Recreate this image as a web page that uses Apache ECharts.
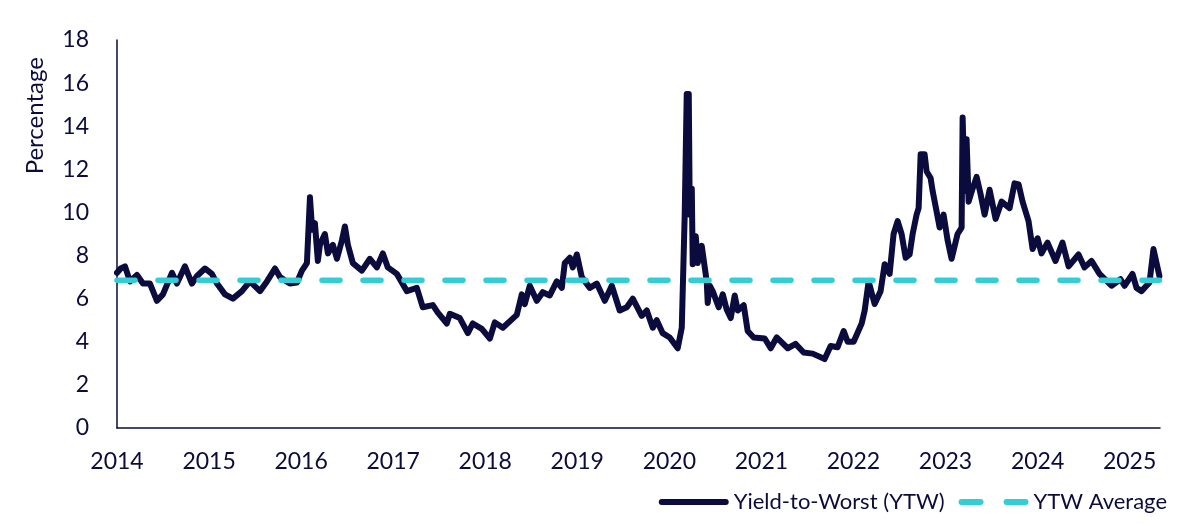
<!DOCTYPE html>
<html>
<head>
<meta charset="utf-8">
<title>Yield-to-Worst</title>
<script src="https://cdn.jsdelivr.net/npm/echarts@6/dist/echarts.min.js"></script>
<style>
  html, body { margin: 0; padding: 0; background: #fff; }
  #main { width: 1200px; height: 526px; }
</style>
</head>
<body>
<div id="main"></div>
<script>
// dates as decimal years
var years = [
  2014.000, 2014.040, 2014.087, 2014.141, 2014.217, 2014.282, 2014.358, 2014.434, 2014.499, 2014.597,
  2014.651, 2014.738, 2014.814, 2014.869, 2014.955, 2015.031, 2015.086, 2015.173, 2015.259, 2015.357,
  2015.444, 2015.553, 2015.629, 2015.716, 2015.770, 2015.878, 2015.954, 2016.009, 2016.063, 2016.096,
  2016.120, 2016.150, 2016.182, 2016.204, 2016.258, 2016.291, 2016.345, 2016.389, 2016.443, 2016.476,
  2016.508, 2016.562, 2016.660, 2016.747, 2016.823, 2016.888, 2016.942, 2017.040, 2017.149, 2017.257,
  2017.322, 2017.431, 2017.485, 2017.583, 2017.616, 2017.724, 2017.811, 2017.865, 2017.963, 2018.050,
  2018.104, 2018.191, 2018.343, 2018.397, 2018.430, 2018.484, 2018.560, 2018.625, 2018.701, 2018.777,
  2018.832, 2018.864, 2018.919, 2018.951, 2018.995, 2019.049, 2019.136, 2019.212, 2019.299, 2019.375,
  2019.461, 2019.538, 2019.603, 2019.700, 2019.755, 2019.820, 2019.863, 2019.928, 2020.004, 2020.091,
  2020.135, 2020.167, 2020.189, 2020.211, 2020.222, 2020.244, 2020.254, 2020.287, 2020.308, 2020.352,
  2020.406, 2020.417, 2020.439, 2020.471, 2020.536, 2020.580, 2020.623, 2020.667, 2020.710, 2020.743,
  2020.808, 2020.851, 2020.916, 2021.036, 2021.101, 2021.166, 2021.286, 2021.372, 2021.459, 2021.557,
  2021.687, 2021.752, 2021.828, 2021.894, 2021.937, 2022.002, 2022.089, 2022.122, 2022.165, 2022.230,
  2022.295, 2022.339, 2022.393, 2022.436, 2022.480, 2022.523, 2022.567, 2022.610, 2022.643, 2022.686,
  2022.708, 2022.730, 2022.773, 2022.795, 2022.838, 2022.860, 2022.903, 2022.936, 2022.979, 2023.023,
  2023.066, 2023.131, 2023.175, 2023.186, 2023.207, 2023.229, 2023.251, 2023.294, 2023.338, 2023.381,
  2023.425, 2023.479, 2023.544, 2023.609, 2023.696, 2023.750, 2023.794, 2023.837, 2023.902, 2023.946,
  2024.000, 2024.043, 2024.108, 2024.195, 2024.271, 2024.337, 2024.445, 2024.510, 2024.586, 2024.673,
  2024.803, 2024.901, 2024.945, 2025.031, 2025.075, 2025.129, 2025.216, 2025.259, 2025.324
]

// Yield-to-Worst (%)
var ytw = [
  7.2, 7.4, 7.5, 6.8, 7.1, 6.7, 6.7, 5.9, 6.2, 7.2,
  6.7, 7.5, 6.7, 7.05, 7.4, 7.15, 6.7, 6.2, 6.0, 6.35,
  6.8, 6.35, 6.8, 7.4, 7.0, 6.7, 6.75, 7.3, 7.65, 10.7,
  9.2, 9.5, 7.75, 8.5, 9.0, 8.1, 8.5, 7.85, 8.7, 9.35,
  8.5, 7.65, 7.3, 7.85, 7.45, 8.1, 7.45, 7.15, 6.35, 6.5,
  5.6, 5.7, 5.35, 4.85, 5.3, 5.1, 4.4, 4.85, 4.6, 4.15,
  4.9, 4.65, 5.25, 6.2, 5.75, 6.6, 5.9, 6.3, 6.15, 6.8,
  6.5, 7.65, 7.9, 7.45, 8.05, 7.0, 6.5, 6.7, 5.9, 6.6,
  5.45, 5.6, 6.0, 5.2, 5.45, 4.65, 5.0, 4.4, 4.2, 3.7,
  4.65, 9.9, 15.5, 15.5, 9.9, 11.1, 7.6, 8.9, 7.65, 8.45,
  6.8, 5.8, 6.6, 6.35, 5.6, 6.2, 5.5, 5.1, 6.15, 5.45,
  5.7, 4.5, 4.2, 4.15, 3.7, 4.2, 3.7, 3.9, 3.5, 3.45,
  3.2, 3.8, 3.75, 4.5, 4.0, 4.0, 4.85, 5.45, 6.8, 5.75,
  6.35, 7.6, 7.15, 9.0, 9.6, 9.0, 7.9, 8.05, 9.0, 9.9,
  10.2, 12.7, 12.7, 11.9, 11.6, 11.0, 10.05, 9.3, 9.9, 8.7,
  7.85, 9.0, 9.3, 14.4, 11.0, 13.4, 10.5, 11.1, 11.65, 10.85,
  9.9, 11.05, 9.7, 10.5, 10.2, 11.35, 11.3, 10.5, 9.6, 8.3,
  8.8, 8.1, 8.6, 7.75, 8.6, 7.5, 8.05, 7.45, 7.75, 7.15,
  6.6, 6.9, 6.6, 7.15, 6.5, 6.35, 6.75, 8.3, 7.05
]

// YTW Average (%)
var ytwAverage = 6.85

var navy = '#0b0b3d'
var teal = '#33cdd5'
var fontName = 'Lato'

// 图例图标: 实线 / 两段虚线
var solidIcon = 'path://M3,0 H67 A3,3 0 0 1 67,6 H3 A3,3 0 0 1 3,0 Z'
var dashIcon =
  'path://M3,0 H22 A3,3 0 0 1 22,6 H3 A3,3 0 0 1 3,0 Z M48,0 H67 A3,3 0 0 1 67,6 H48 A3,3 0 0 1 48,0 Z'

var lineData = years.map(function (y, i) {
  return [y, ytw[i]]
})
var avgData = [
  [years[0], ytwAverage],
  [years[years.length - 1], ytwAverage],
]

var myChart = echarts.init(document.getElementById('main'))

var option = {
  animation: false,
  textStyle: { fontFamily: fontName, color: navy },
  grid: {
    left: 117,
    right: 40,
    top: 40,
    bottom: 98,
    containLabel: false,
  },
  legend: {
    right: 28,
    top: 486,
    itemWidth: 70,
    itemHeight: 6,
    itemGap: 14,
    textStyle: { fontFamily: fontName, fontSize: 22, color: navy },
    data: [
      { name: 'Yield-to-Worst (YTW)', icon: solidIcon },
      { name: 'YTW Average', icon: dashIcon },
    ],
  },
  // 纵轴标题
  graphic: [
    {
      type: 'text',
      left: 23,
      top: 57,
      rotation: Math.PI / 2,
      style: {
        text: 'Percentage',
        font: '24px ' + fontName,
        fill: navy,
      },
    },
  ],
  xAxis: {
    type: 'value',
    min: 2014,
    max: 2025.33,
    interval: 1,
    axisLine: { show: true, lineStyle: { color: navy, width: 1.5 } },
    axisTick: { show: false },
    splitLine: { show: false },
    axisLabel: {
      margin: 22,
      fontSize: 23,
      color: navy,
      fontFamily: fontName,
      showMaxLabel: false,
      formatter: function (v) {
        return Math.abs(v - Math.round(v)) < 1e-6 ? String(Math.round(v)) : ''
      },
    },
  },
  yAxis: {
    type: 'value',
    min: 0,
    max: 18,
    interval: 2,
    axisLine: { show: true, lineStyle: { color: navy, width: 1.5 } },
    axisTick: { show: false },
    splitLine: { show: false },
    axisLabel: {
      margin: 28,
      fontSize: 23,
      color: navy,
      fontFamily: fontName,
    },
  },
  series: [
    {
      name: 'Yield-to-Worst (YTW)',
      type: 'line',
      data: lineData,
      symbol: 'none',
      showSymbol: false,
      smooth: false,
      itemStyle: { color: navy },
      lineStyle: { color: navy, width: 6, join: 'round', cap: 'round' },
      z: 2,
    },
    {
      name: 'YTW Average',
      type: 'line',
      data: avgData,
      symbol: 'none',
      showSymbol: false,
      itemStyle: { color: teal },
      lineStyle: {
        color: teal,
        width: 5.5,
        type: [18, 23],
        cap: 'round',
      },
      z: 3,
    },
  ],
}

myChart.setOption(option)
</script>
</body>
</html>
